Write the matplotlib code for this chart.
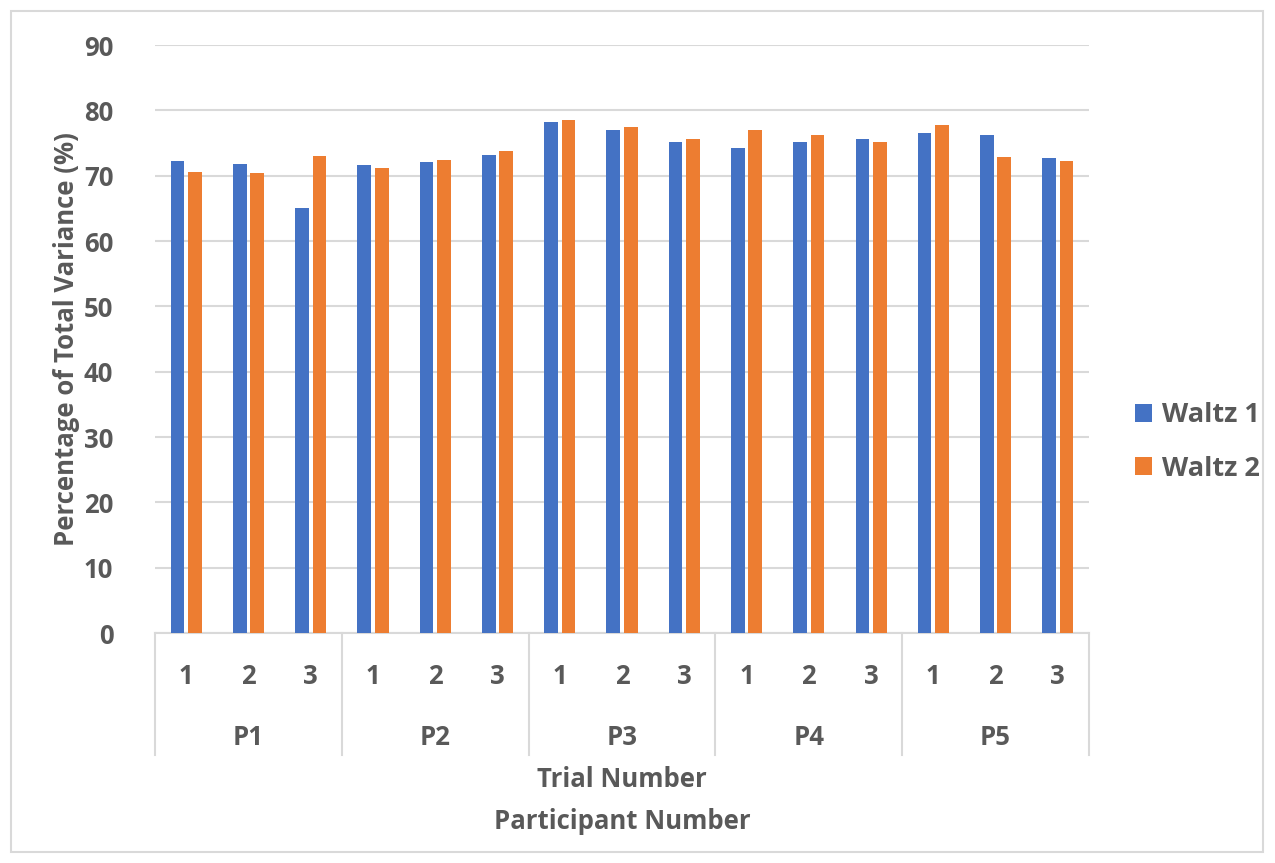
import numpy as np
import matplotlib
matplotlib.use('Agg')
import matplotlib.pyplot as plt
import matplotlib.transforms as mtransforms
from matplotlib.patches import Rectangle

plt.rcParams['font.family'] = ['Open Sans', 'DejaVu Sans']
plt.rcParams['font.weight'] = 'bold'

# Percentage of total variance per trial, grouped by participant
participants = ['P1', 'P2', 'P3', 'P4', 'P5']
trials = ['1', '2', '3']
waltz1 = [72.2, 71.8, 65.0,
          71.7, 72.1, 73.2,
          78.2, 77.0, 75.2,
          74.3, 75.1, 75.6,
          76.6, 76.3, 72.7]
waltz2 = [70.6, 70.4, 73.0,
          71.1, 72.4, 73.7,
          78.5, 77.4, 75.6,
          77.0, 76.2, 75.1,
          77.8, 72.8, 72.3]
y_ticks = [0, 10, 20, 30, 40, 50, 60, 70, 80, 90]

TextColor = '#595959'
GridColor = '#d9d9d9'
FontSize = 18.5

W, H = 1275, 863
fig = plt.figure(figsize=(W/100, H/100), dpi=100)
ax = fig.add_axes([155/W, (H-633)/H, (1089-155)/W, (633-45)/H])

n = len(waltz1)
x = np.arange(n)
bw = 0.22
off = 0.14
ax.bar(x - off, waltz1, bw, color='#4472C4', label='Waltz 1', zorder=3)
ax.bar(x + off, waltz2, bw, color='#ED7D31', label='Waltz 2', zorder=3)

ax.set_xlim(-0.5, n - 0.5)
ax.set_ylim(0, 90)
ax.set_yticks(y_ticks)
ax.set_xticks([])
ax.yaxis.grid(True, color=GridColor, linewidth=1.5, zorder=0)
ax.set_axisbelow(True)
for s in ['top', 'right', 'left']:
    ax.spines[s].set_visible(False)
ax.spines['bottom'].set_color(GridColor)
ax.spines['bottom'].set_linewidth(1.5)
ax.tick_params(axis='y', length=0, pad=30, labelsize=FontSize, labelcolor=TextColor)
for lbl in ax.get_yticklabels():
    lbl.set_fontweight('bold')

# trial labels, participant labels and separators below the axis
trans = mtransforms.blended_transform_factory(ax.transData, ax.transAxes)
trial_labels = trials * len(participants)
for i in range(n):
    ax.text(x[i], -(676 - 633) / 588, trial_labels[i], transform=trans, ha='center', va='center',
            fontsize=FontSize, color=TextColor, fontweight='bold')
sep_bottom = -(755 - 633) / 588
for i in range(len(participants) + 1):
    xs = i * 3 - 0.5
    ax.plot([xs, xs], [0, sep_bottom], color=GridColor, linewidth=1.5,
            transform=trans, clip_on=False)
for i, p in enumerate(participants):
    ax.text(i * 3 + 1, -(737 - 633) / 588, p, transform=trans, ha='center', va='center',
            fontsize=FontSize, color=TextColor, fontweight='bold')

fig.text(622/W, 1 - 779/H, 'Trial Number', ha='center', va='center',
         fontsize=FontSize, color=TextColor, fontweight='bold')
fig.text(622/W, 1 - 821/H, 'Participant Number', ha='center', va='center',
         fontsize=FontSize, color=TextColor, fontweight='bold')
fig.text(67/W, 1 - 339/H, 'Percentage of Total Variance (%)', rotation=90,
         ha='center', va='center', fontsize=FontSize, color=TextColor, fontweight='bold')

leg = fig.legend(loc='center left', bbox_to_anchor=(1111/W, 1 - 442/H), frameon=False,
                 fontsize=FontSize + 1, handlelength=0.6, handleheight=0.6,
                 handletextpad=0.4, labelspacing=1.0, labelcolor=TextColor)
for t in leg.get_texts():
    t.set_fontweight('bold')

# chart border
fig.patches.append(Rectangle((11/W, 11/H), (1263-11)/W, (852-11)/H, transform=fig.transFigure,
                             fill=False, edgecolor=GridColor, linewidth=1.5))

fig.savefig('out.png', dpi=100)
